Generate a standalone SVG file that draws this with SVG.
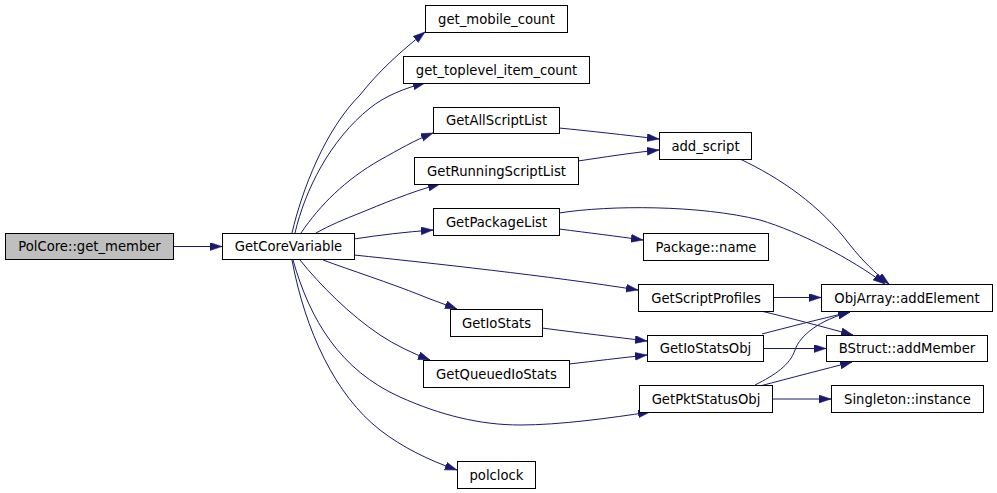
<svg xmlns="http://www.w3.org/2000/svg" width="997" height="493" viewBox="0 0 997 493">
<style>
.node rect{fill:#ffffff;stroke:#000000;stroke-width:1}
.node.root rect{fill:#bfbfbf}
.node text{font-family:"DejaVu Sans",sans-serif;font-size:13.2px;fill:#000000;text-anchor:middle}
.edges path{fill:none;stroke:#191970;stroke-width:1;marker-end:url(#arrow)}
</style>
<defs>
<marker id="arrow" markerUnits="userSpaceOnUse" markerWidth="13" markerHeight="9" refX="12" refY="4" orient="auto">
<path d="M0,0 L12,4 L0,8 z" fill="#191970" stroke="#191970" stroke-width="0.5"/>
</marker>
</defs>
<rect width="997" height="493" fill="#ffffff"/>
<g class="edges">
<path d="M173,246.5 L222,246.5"/>
<path d="M292,233 C302,190 325,130 360,95 C378,72 400,52 425,32"/>
<path d="M295,233 C305,190 330,140 370,108 C385,96 405,88 425,83"/>
<path d="M301,233 C320,205 345,180 380,160 C398,150 415,140 433,133"/>
<path d="M316,233 C330,225 345,219 360,213 C380,205 410,192 440,184"/>
<path d="M354,239 C380,235 405,232 433,230"/>
<path d="M354,255 C430,263 550,276 638,290"/>
<path d="M323,260 C350,270 390,283 420,295 C432,300 444,304 457,309"/>
<path d="M300,260 C320,285 350,315 380,335 C395,345 412,353 430,360"/>
<path d="M293,260 C310,320 340,370 400,397 C440,415 480,425 520,425 C560,425 610,418 650,412"/>
<path d="M292,260 C305,330 335,395 380,430 C402,447 428,460 457,470"/>
<path d="M559,128 C590,131 625,135 659,139"/>
<path d="M578,161 C605,157 630,153 659,150"/>
<path d="M740,159 C780,178 820,205 850,245 C862,260 875,273 889,284"/>
<path d="M559,213 C610,205 700,205 760,220 C800,232 850,258 885,284"/>
<path d="M559,229 C590,233 615,236 643,240"/>
<path d="M773,297.5 L821,297.5"/>
<path d="M761,311 C790,318 820,326 853,335"/>
<path d="M542,328 C580,333 615,337 647,341"/>
<path d="M569,364 C595,361 620,358 647,355"/>
<path d="M762,334 C785,328 820,319 850,312"/>
<path d="M763,348.5 L826,348.5"/>
<path d="M755,385 C775,375 790,365 795,350 C800,335 820,320 850,312"/>
<path d="M760,386 C790,378 825,369 852,362"/>
<path d="M772,399 L831,399"/>
</g>
<g id="n_polcore_get_member" class="node root"><rect x="5.5" y="233.5" width="168" height="26"/><text x="89.5" y="251">PolCore::get_member</text></g>
<g id="n_getcorevariable" class="node"><rect x="222.5" y="233.5" width="132" height="26"/><text x="288.5" y="251">GetCoreVariable</text></g>
<g id="n_get_mobile_count" class="node"><rect x="425.5" y="5.5" width="142" height="27"/><text x="496.5" y="23.5">get_mobile_count</text></g>
<g id="n_get_toplevel_item_count" class="node"><rect x="403.5" y="56.5" width="186" height="27"/><text x="496.5" y="74.5">get_toplevel_item_count</text></g>
<g id="n_getallscriptlist" class="node"><rect x="433.5" y="107.5" width="126" height="26"/><text x="496.5" y="125">GetAllScriptList</text></g>
<g id="n_add_script" class="node"><rect x="659.5" y="132.5" width="92" height="27"/><text x="705.5" y="150.5">add_script</text></g>
<g id="n_getrunningscriptlist" class="node"><rect x="414.5" y="157.5" width="164" height="27"/><text x="496.5" y="175.5">GetRunningScriptList</text></g>
<g id="n_getpackagelist" class="node"><rect x="433.5" y="208.5" width="126" height="27"/><text x="496.5" y="226.5">GetPackageList</text></g>
<g id="n_package_name" class="node"><rect x="643.5" y="233.5" width="125" height="27"/><text x="706" y="251.5">Package::name</text></g>
<g id="n_getscriptprofiles" class="node"><rect x="638.5" y="284.5" width="135" height="27"/><text x="706" y="302.5">GetScriptProfiles</text></g>
<g id="n_objarray_addelement" class="node"><rect x="821.5" y="284.5" width="171" height="27"/><text x="907" y="302.5">ObjArray::addElement</text></g>
<g id="n_getiostats" class="node"><rect x="450.5" y="309.5" width="92" height="27"/><text x="496.5" y="327.5">GetIoStats</text></g>
<g id="n_getiostatsobj" class="node"><rect x="647.5" y="335.5" width="116" height="26"/><text x="705.5" y="353">GetIoStatsObj</text></g>
<g id="n_bstruct_addmember" class="node"><rect x="826.5" y="335.5" width="161" height="26"/><text x="907" y="353">BStruct::addMember</text></g>
<g id="n_getqueuediostats" class="node"><rect x="423.5" y="360.5" width="146" height="27"/><text x="496.5" y="378.5">GetQueuedIoStats</text></g>
<g id="n_getpktstatusobj" class="node"><rect x="639.5" y="385.5" width="133" height="27"/><text x="706" y="403.5">GetPktStatusObj</text></g>
<g id="n_singleton_instance" class="node"><rect x="831.5" y="385.5" width="152" height="27"/><text x="907.5" y="403.5">Singleton::instance</text></g>
<g id="n_polclock" class="node"><rect x="457.5" y="461.5" width="78" height="27"/><text x="496.5" y="479.5">polclock</text></g>
</svg>
